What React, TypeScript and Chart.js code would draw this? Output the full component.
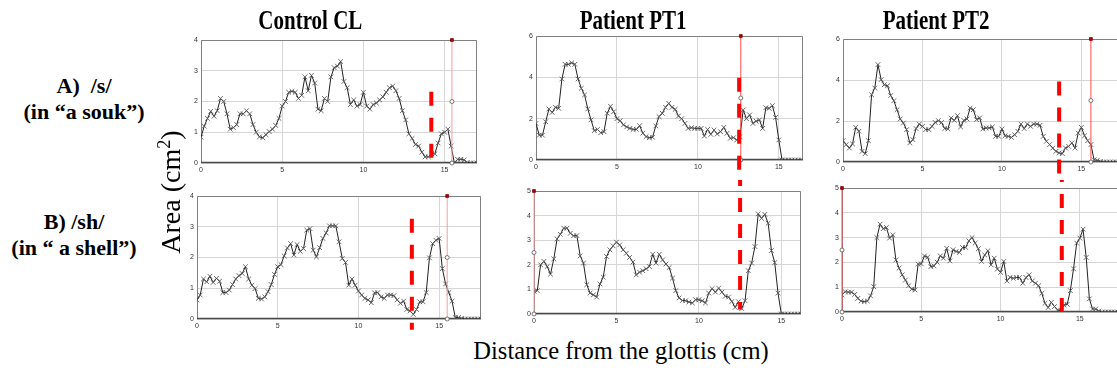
import React, { useEffect, useRef } from 'react';
import { Chart, registerables } from 'chart.js';

Chart.register(...registerables);

// ---- data (cross-sectional area, cm², sampled every 0.2 cm from the glottis) ----
const STEP = 0.2;
const X_TICKS = [0, 5, 10, 15];

const CL_S = [0.84, 1.2, 1.45, 1.68, 1.52, 1.7, 2.1, 2.0, 1.6, 1.1, 1.15, 1.25, 1.6, 1.6, 1.7, 1.6, 1.25, 1.0, 0.85, 0.82, 0.92, 1.02, 1.1, 1.22, 1.45,
  1.85, 2.0, 2.3, 2.33, 2.3, 2.1, 2.2, 2.8, 2.35, 2.85, 2.6, 1.75, 1.7, 2.1, 2.0, 2.8, 3.1, 3.15, 3.3, 2.65, 2.45, 1.9, 2.05, 1.85, 1.9,
  2.3, 1.85, 1.75, 1.9, 1.95, 2.05, 2.15, 2.3, 2.45, 2.5, 2.35, 2.1, 1.7, 1.4, 0.95, 0.8, 0.6, 0.55, 0.35, 0.2, 0.2, 0.3, 0.3, 0.65, 0.95,
  1.0, 1.1, 0.55, 0.0, 0.12, 0.12, 0.1, 0.02, 0, 0, 0];

const PT1_S = [1.77, 1.2, 1.2, 1.85, 2.47, 2.3, 2.55, 2.5, 3.92, 4.63, 4.63, 4.7, 4.63, 3.92, 3.47, 3.15, 2.47, 1.94, 1.42, 1.48, 1.32, 1.37,
  2.26, 2.6, 2.34, 2.0, 1.9, 1.7, 1.6, 1.53, 1.48, 1.48, 1.66, 1.3, 1.13, 1.08, 1.1, 1.65, 2.1, 2.26, 2.55, 2.74, 2.55, 2.45, 2.13, 2.0,
  1.77, 1.53, 1.56, 1.53, 1.53, 1.53, 1.16, 1.48, 1.24, 1.45, 1.26, 1.37, 1.58, 1.29, 1.05, 1.08, 0.97, 1.13, 2.42, 2.0, 2.18, 1.77, 1.88,
  1.94, 1.53, 2.53, 2.5, 2.63, 2.06, 0.97, 0, 0, 0, 0, 0, 0, 0];

const PT2_S = [1.04, 0.85, 0.68, 0.88, 1.69, 1.5, 0.52, 0.41, 1.04, 3.28, 3.61, 4.75, 4.02, 3.77, 3.72, 3.24, 2.99, 2.55, 2.1, 1.9, 1.58,
  0.93, 1.09, 1.63, 1.85, 1.74, 1.58, 1.58, 1.74, 1.93, 2.02, 1.93, 1.63, 1.61, 2.15, 2.03, 2.26, 1.71, 2.03, 2.1, 2.63, 2.55, 2.07, 2.15,
  1.61, 1.66, 1.66, 1.71, 1.25, 1.25, 1.61, 1.28, 1.25, 1.2, 1.33, 1.5, 1.85, 1.63, 1.85, 1.74, 1.85, 1.85, 1.79, 1.25, 1.01, 0.85, 0.68,
  0.52, 0.44, 0.41, 0.68, 0.76, 0.93, 0.68, 1.41, 1.69, 1.28, 1.04, 0.85, 0.11, 0.08, 0.03, 0, 0, 0, 0, 0, 0, 0];

const CL_SH = [0.62, 0.78, 1.3, 1.21, 1.39, 1.19, 1.32, 1.23, 0.86, 0.86, 0.94, 1.12, 1.3, 1.41, 1.48, 1.7, 1.3, 1.1, 0.99, 0.67, 0.65, 0.72,
  0.89, 1.12, 1.45, 1.7, 1.77, 2.05, 2.31, 2.45, 2.08, 2.42, 2.2, 2.29, 2.89, 2.94, 2.24, 2.02, 2.32, 2.62, 2.8, 3.03, 3.03, 3.03, 2.51,
  1.97, 1.84, 1.1, 1.3, 1.1, 0.91, 0.78, 0.67, 0.62, 0.53, 0.85, 0.86, 0.72, 0.67, 0.78, 0.78, 0.76, 0.62, 0.51, 0.58, 0.31, 0.26, 0.15,
  0.31, 0.56, 0.56, 0.86, 1.99, 2.45, 2.56, 2.62, 1.64, 1.14, 0.86, 0.58, 0.05, 0.05, 0.02, 0, 0, 0, 0, 0, 0];

const PT1_SH = [0.92, 0.95, 2.0, 2.14, 1.93, 1.62, 2.24, 3.05, 3.24, 3.49, 3.49, 3.28, 3.18, 3.19, 2.36, 2.07, 1.19, 0.85, 0.78, 0.69, 1.22,
  1.5, 2.34, 2.61, 2.77, 2.92, 2.81, 2.61, 2.47, 2.3, 2.11, 1.59, 1.7, 1.76, 1.84, 1.93, 2.43, 2.07, 2.43, 2.2, 2.03, 1.89, 1.46, 0.95,
  0.65, 0.55, 0.54, 0.49, 0.45, 0.58, 0.58, 0.54, 0.45, 0.85, 1.03, 0.89, 1.05, 0.89, 0.72, 0.69, 0.51, 0.27, 0.5, 0.22, 0.54, 1.76, 2.07,
  2.74, 4.07, 3.89, 4.05, 3.69, 2.58, 2.09, 0.85, 0, 0, 0, 0, 0, 0, 0];

const PT2_SH = [0.69, 0.82, 0.8, 0.8, 0.71, 0.55, 0.44, 0.42, 0.44, 0.65, 1.02, 3.0, 3.54, 3.36, 3.41, 2.98, 3.11, 2.1, 1.77, 1.5, 1.29,
  1.06, 0.92, 0.89, 1.93, 1.94, 2.26, 2.21, 1.83, 1.86, 2.01, 2.26, 2.17, 2.57, 2.06, 2.51, 2.44, 2.4, 2.6, 2.6, 2.87, 3.0, 2.78, 2.55,
  2.04, 2.3, 2.47, 1.9, 2.17, 1.73, 1.6, 2.04, 1.25, 1.4, 1.36, 1.39, 1.39, 1.16, 1.39, 1.5, 1.25, 1.16, 1.06, 0.75, 0.35, 0.18, 0.39,
  0.22, 0.08, 0.04, 0.28, 0.31, 0.86, 1.74, 2.78, 2.98, 3.34, 2.2, 0.53, 0.12, 0.12, 0.04, 0, 0, 0, 0, 0, 0, 0];

// y tick labels
const Y_TICKS_4 = [0, 1, 2, 3, 4];
const Y_TICKS_6 = [0, 2, 4, 6];
const Y_TICKS_5 = [0, 1, 2, 3, 4, 5];

// cursor (thin red) line: x position and its three handles
const CURSOR_X = [15.45, 12.65, 15.6, 15.5, 0, 0];
const CURSOR_Y_CL = [0, 2, 4];
const CURSOR_Y_6 = [0, 3, 6];
const CURSOR_Y_5 = [0, 2.5, 5];

// red dashed constriction markers: x, y from, y to
const DASH_X = [14.18, 12.55, 13.6, 13.31, 12.5, 13.86];
const DASH_Y_FROM = [2.32, 3.98, 3.93, 3.26, 10, 10];
const DASH_Y_TO = [0, -10, -10, -0.35, 0.18, -0.1];

// ---- panels ----
type PanelDef = {
  vals: number[];
  xMax: number;
  yMax: number;
  yTicks: number[];
  cursorY: number[];
  cursorColor: string;
  idx: number;
  left: number; top: number; width: number; height: number;
  padTop: number; padBottom: number; padRight: number;
};

const Y_AXIS_W = 12;
const X_AXIS_H = 12;

function mk(vals: number[], xMax: number, yMax: number, yTicks: number[], cursorY: number[], cursorColor: string, idx: number,
  pl: number, pt: number, pr: number, pb: number, rowTop: number, rowBottom: number): PanelDef {
  const padRight = 4;
  return {
    vals, xMax, yMax, yTicks, cursorY, cursorColor, idx,
    left: pl - Y_AXIS_W, top: rowTop, width: pr - pl + Y_AXIS_W + padRight, height: rowBottom - rowTop,
    padTop: pt - rowTop, padBottom: rowBottom - pb - X_AXIS_H, padRight,
  };
}

const PANELS: PanelDef[] = [
  mk(CL_S, 17, 4, Y_TICKS_4, CURSOR_Y_CL, '#ff9a9a', 0, 201, 40, 478, 163, 22, 180),
  mk(PT1_S, 16.5, 6, Y_TICKS_6, CURSOR_Y_6, '#ff4a4a', 1, 536, 36, 804, 160, 22, 180),
  mk(PT2_S, 17.5, 6, Y_TICKS_6, CURSOR_Y_6, '#ff4a4a', 2, 843, 39, 1122, 162, 22, 180),
  mk(CL_SH, 17.6, 4, Y_TICKS_4, CURSOR_Y_CL, '#ff9a9a', 3, 197, 196, 482, 319, 180, 336),
  mk(PT1_SH, 16.2, 5, Y_TICKS_5, CURSOR_Y_5, '#ff9a9a', 4, 534, 191, 802, 314, 180, 336),
  mk(PT2_SH, 17.6, 5, Y_TICKS_5, CURSOR_Y_5, '#ff4a4a', 5, 842, 188, 1122, 312, 180, 336),
];

const framePlugin = {
  id: 'frame',
  beforeDatasetsDraw(chart: any) {
    const { ctx, chartArea: a } = chart;
    ctx.save();
    ctx.strokeStyle = '#808080';
    ctx.lineWidth = 1;
    const l = Math.round(a.left) + 0.5;
    const t = Math.round(a.top) + 0.5;
    const r = Math.round(a.right) - 0.5;
    const b = Math.round(a.bottom) - 0.5;
    ctx.beginPath();
    ctx.moveTo(l, b); ctx.lineTo(l, t); ctx.lineTo(r, t); ctx.lineTo(r, b);
    ctx.stroke();
    ctx.strokeStyle = '#4a4a4a';
    ctx.lineWidth = 1.5;
    ctx.beginPath();
    ctx.moveTo(l - 0.5, b); ctx.lineTo(r + 0.5, b);
    ctx.stroke();
    ctx.restore();
  },
};

const TICK_FONT = { size: 7, family: '"Liberation Sans", Arial, sans-serif' };

function Panel({ def }: { def: PanelDef }) {
  const ref = useRef<HTMLCanvasElement>(null);
  useEffect(() => {
    const i = def.idx;
    const chart = new Chart(ref.current!, {
      type: 'line',
      data: {
        datasets: [
          {
            data: [{ x: DASH_X[i], y: DASH_Y_FROM[i] }, { x: DASH_X[i], y: DASH_Y_TO[i] }],
            borderColor: '#ff0000',
            borderWidth: 4,
            borderDash: [14, 12],
            pointRadius: 0,
            clip: false as any,
          },
          {
            data: def.cursorY.map((y) => ({ x: CURSOR_X[i], y })),
            borderColor: def.cursorColor,
            borderWidth: 1,
            pointStyle: def.cursorY.map((_, k) => (k === def.cursorY.length - 1 ? 'rect' : 'circle')) as any,
            pointRadius: 2,
            pointBackgroundColor: def.cursorY.map((_, k) => (k === def.cursorY.length - 1 ? '#b00000' : '#ffffff')),
            pointBorderColor: def.cursorY.map((_, k) => (k === def.cursorY.length - 1 ? '#800000' : '#555555')),
            pointBorderWidth: 0.8,
            clip: false as any,
          },
          {
            data: def.vals.map((y, k) => ({ x: Math.round(k * STEP * 10) / 10, y })),
            borderColor: '#222222',
            borderWidth: 1,
            pointStyle: 'crossRot',
            pointRadius: 3.3,
            pointBorderColor: '#5a5a5a',
            pointBorderWidth: 0.9,
            pointBackgroundColor: 'transparent',
            tension: 0,
          },
        ],
      },
      options: {
        animation: false,
        responsive: false,
        maintainAspectRatio: false,
        devicePixelRatio: 1,
        events: [],
        layout: { padding: { top: def.padTop, bottom: def.padBottom, left: 0, right: def.padRight } },
        plugins: { legend: { display: false }, tooltip: { enabled: false }, title: { display: false } },
        scales: {
          x: {
            type: 'linear',
            min: 0,
            max: def.xMax,
            afterBuildTicks: (s: any) => { s.ticks = X_TICKS.map((v) => ({ value: v })); },
            afterFit: (s: any) => { s.height = X_AXIS_H; s.paddingLeft = 0; s.paddingRight = 0; },
            grid: { color: '#d6d6d6', lineWidth: 1, drawTicks: false },
            border: { display: false },
            ticks: { font: TICK_FONT, color: '#333', padding: 3, maxRotation: 0, autoSkip: false },
          },
          y: {
            type: 'linear',
            min: 0,
            max: def.yMax,
            afterBuildTicks: (s: any) => { s.ticks = def.yTicks.map((v) => ({ value: v })); },
            afterFit: (s: any) => { s.width = Y_AXIS_W; s.paddingTop = 0; s.paddingBottom = 0; },
            grid: { color: '#d6d6d6', lineWidth: 1, drawTicks: false },
            border: { display: false },
            ticks: { font: TICK_FONT, color: '#333', padding: 3, autoSkip: false },
          },
        },
      },
      plugins: [framePlugin],
    } as any);
    return () => chart.destroy();
  }, [def]);
  return (
    <canvas
      ref={ref}
      width={def.width}
      height={def.height}
      style={{ position: 'absolute', left: def.left, top: def.top, width: def.width, height: def.height }}
    />
  );
}

const COL_TITLES = ['Control CL', 'Patient PT1', 'Patient PT2'];
const COL_CENTERS = [310, 633, 936];

export default function App() {
  const serif = '"Liberation Serif", "Times New Roman", serif';
  return (
    <div style={{ position: 'fixed', left: 0, top: 0, width: 1117, height: 373, overflow: 'hidden', background: '#fff', fontFamily: serif, color: '#000' }}>
      {PANELS.map((p, k) => <Panel key={k} def={p} />)}

      {COL_TITLES.map((t, k) => (
        <div key={t} style={{ position: 'absolute', left: COL_CENTERS[k] - 100, top: 6, width: 200, textAlign: 'center', fontSize: 28, lineHeight: '28px', fontWeight: 'bold' }}>
          <span style={{ display: 'inline-block', transform: 'scaleX(0.75)' }}>{t}</span>
        </div>
      ))}

      <div style={{ position: 'absolute', left: -16, top: 73, width: 200, textAlign: 'center', fontSize: 22, lineHeight: '26px', fontWeight: 'bold', whiteSpace: 'pre' }}>
        {'A)  /s/\n(in \u201ca souk\u201d)'}
      </div>
      <div style={{ position: 'absolute', left: -26, top: 209, width: 200, textAlign: 'center', fontSize: 22, lineHeight: '26px', fontWeight: 'bold', whiteSpace: 'pre' }}>
        {'B) /sh/\n(in \u201c a shell\u201d)'}
      </div>

      <div style={{ position: 'absolute', left: 71, top: 174, width: 200, height: 36, lineHeight: '36px', textAlign: 'center', fontSize: 28, transform: 'rotate(-90deg)' }}>
        Area (cm<sup style={{ fontSize: '0.65em', lineHeight: 0 }}>2</sup>)
      </div>

      <div style={{ position: 'absolute', left: 421, top: 337, width: 400, textAlign: 'center', fontSize: 24.5, lineHeight: '28px' }}>
        Distance from the glottis (cm)
      </div>
    </div>
  );
}
